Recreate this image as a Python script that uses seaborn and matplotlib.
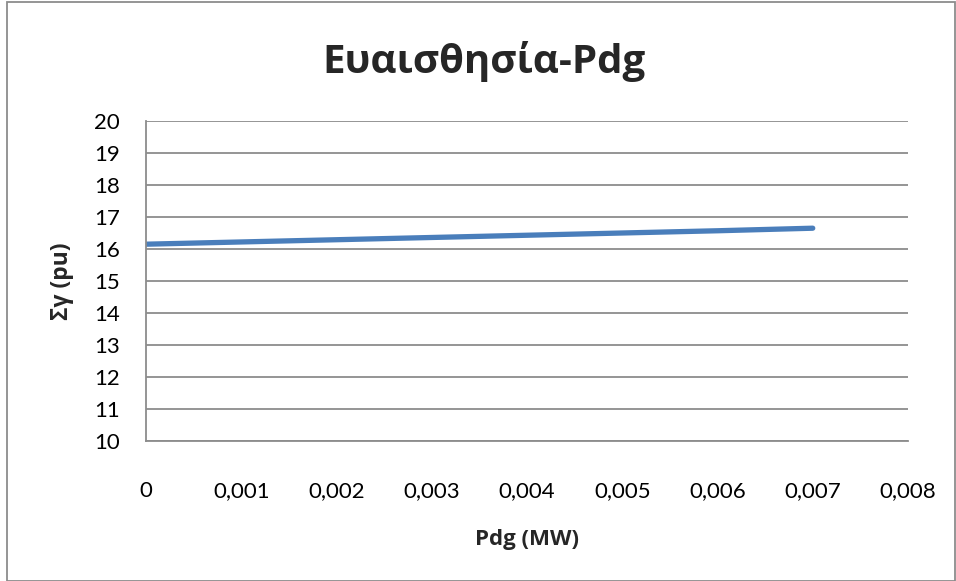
import matplotlib
matplotlib.use("Agg")
import matplotlib.pyplot as plt
import seaborn as sns
import pandas as pd
from matplotlib.patches import Rectangle
from matplotlib.ticker import FuncFormatter

pdg = [0.0, 0.001, 0.002, 0.003, 0.004, 0.005, 0.006, 0.007]
sg = [16.15, 16.22, 16.29, 16.36, 16.43, 16.50, 16.57, 16.65]
xticks = [0, 0.001, 0.002, 0.003, 0.004, 0.005, 0.006, 0.007, 0.008]
yticks = list(range(10, 21))

sns.set_style("white")
plt.rcParams['font.family'] = ['Lato', 'DejaVu Sans']
BOLD = ['Open Sans', 'DejaVu Sans']

df = pd.DataFrame({"Pdg": pdg, "Sg": sg})
fig = plt.figure(figsize=(9.56, 5.81), dpi=100)
ax = fig.add_axes([146/956, 1-441/581, (908-146)/956, (441-121)/581])

sns.lineplot(data=df, x="Pdg", y="Sg", ax=ax, color="#4a7ebb", linewidth=3.8,
             solid_capstyle="round")

ax.set_xlim(0, 0.008)
ax.set_ylim(10, 20)
ax.set_xticks(xticks)
ax.set_yticks(yticks)
ax.xaxis.set_major_formatter(FuncFormatter(lambda v, p: "0" if v == 0 else f"{v:.3f}".replace(".", ",")))
ax.yaxis.grid(True, color="#8c8c8c", linewidth=1.3)
ax.xaxis.grid(False)
for s in ["top", "right"]:
    ax.spines[s].set_visible(False)
for s in ["left", "bottom"]:
    ax.spines[s].set_color("#8c8c8c")
    ax.spines[s].set_linewidth(1.3)
ax.tick_params(axis="x", length=0, pad=29, labelsize=16, colors="black")
ax.tick_params(axis="y", length=0, pad=19, labelsize=16, colors="black")
ax.set_xlabel("Pdg (MW)", fontsize=16, fontweight="bold", family=BOLD, labelpad=20)
ax.set_ylabel("Σγ (pu)", fontsize=16.5, fontweight="bold", family=BOLD, labelpad=14)

fig.text(484/956, 1-73/581, "Ευαισθησία-Pdg", ha="center", va="baseline",
         fontsize=29, fontweight="bold", family=BOLD)

fig.patches.append(Rectangle((7/956, 0), 1-8/956, 1-2/581, transform=fig.transFigure,
                             fill=False, edgecolor="#8c8c8c", linewidth=1.3))

fig.savefig("out.png", dpi=100)
